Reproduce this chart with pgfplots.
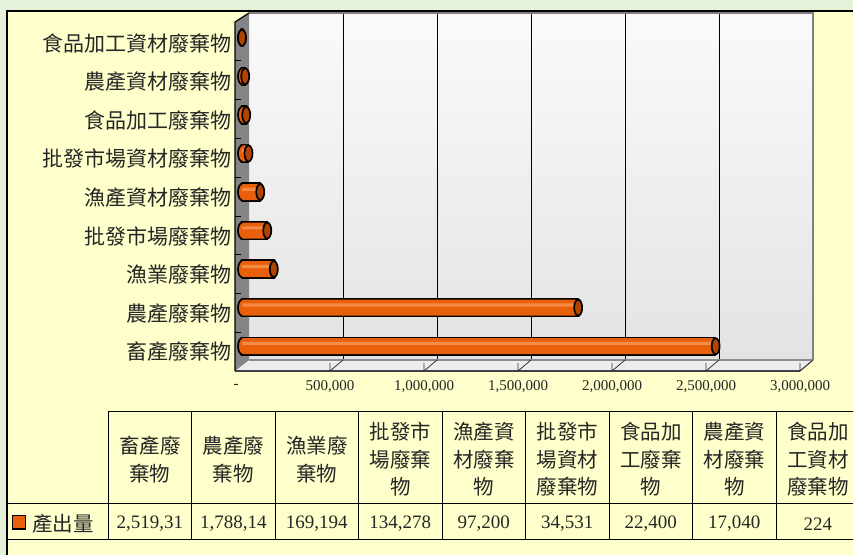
\documentclass[border=0pt]{standalone}
\usepackage{pgfplots}
\pgfplotsset{compat=1.18}
\usepackage{pgfplotstable}
\usepackage{fontspec}
\setmainfont{Liberation Serif}
\newfontfamily\cjk{Noto Sans CJK TC}
\definecolor{bggreen}{HTML}{E5F2D9}
\definecolor{chartyellow}{HTML}{FFFFCC}
\definecolor{barorange}{HTML}{E8600C}
\definecolor{barlight}{HTML}{F58A45}
\definecolor{barcap}{HTML}{B04400}

\pgfdeclareplotmark{lefthalf}{%
  \pgfpathmoveto{\pgfpoint{0pt}{\pgfplotmarksize}}%
  \pgfpatharc{90}{270}{\pgfplotmarksize}%
  \pgfpathclose
  \pgfusepathqfill
  \pgfpathmoveto{\pgfpoint{0pt}{\pgfplotmarksize}}%
  \pgfpatharc{90}{270}{\pgfplotmarksize}%
  \pgfusepathqstroke
}

\pgfplotstableread{
k v
0 2519310
1 1788140
2 169194
3 134278
4 97200
5 34531
6 22400
7 17040
8 224
}\wastedata

\begin{document}
\begin{tikzpicture}[x=1pt,y=1pt]
\useasboundingbox (0,0) rectangle (853,555);
% backgrounds
\fill[bggreen] (0,0) rectangle (853,555);
\fill[chartyellow] (7,0) rectangle (853,544);
\draw[black, line width=1.5pt] (7,0) -- (7,544) -- (853,544);
% back wall
\shade[top color=black!2, bottom color=black!11] (249,195) rectangle (813,542);
\foreach \k in {1,...,5} {
  \draw[black, line width=0.8pt] ({249+94*\k},542) -- ({249+94*\k},195);
}
\draw[black!50, line width=1.5pt] (249,542) -- (813,542) -- (813,195);
% floor
\fill[black!7] (235,184) -- (249,195) -- (813,195) -- (800,184) -- cycle;
\draw[black!45, line width=2pt] (249,195) -- (813,195);
\draw[black!45, line width=1.2pt] (800,184) -- (813,195);
\draw[black!75, line width=1.2pt] (235,184) -- (800,184);
\foreach \k in {1,...,6} {
  \draw[black!80, line width=0.8pt] ({249+94*\k},195) -- ({236+94*\k},184) -- ({236+94*\k},192);
}
% side wall
\fill[black!48] (235,184) -- (235,533) -- (249,542) -- (249,195) -- cycle;
\draw[black, line width=1.2pt] (235,184) -- (235,533) -- (249,542);
\foreach \k in {1,...,8} {
  \draw[black, line width=0.8pt] (235,{555-22-38.8*\k}) -- (241,{555-22-38.8*\k});
}
\begin{axis}[
  at={(242pt,189.5pt)}, anchor=south west,
  width=564pt, height=347pt, scale only axis,
  xmin=0, xmax=3000000, ymin=-0.5, ymax=8.5,
  clip=false,
  axis line style={draw=none},
  tick style={draw=none},
  scaled x ticks=false,
  xtick={0,500000,1000000,1500000,2000000,2500000,3000000},
  xticklabels={-,{500,000},{1,000,000},{1,500,000},{2,000,000},{2,500,000},{3,000,000}},
  ytick={0,1,2,3,4,5,6,7,8},
  yticklabels={畜產廢棄物,農產廢棄物,漁業廢棄物,批發市場廢棄物,漁產資材廢棄物,批發市場資材廢棄物,食品加工廢棄物,農產資材廢棄物,食品加工資材廢棄物},
  x tick label style={font=\fontsize{15}{15}\selectfont, text=black!85, anchor=center, xshift=-6pt, yshift=-21pt},
  y tick label style={font=\cjk\fontsize{21}{21}\selectfont, text=black!85, anchor=east, inner sep=0pt, xshift=-10pt, yshift=-5.5pt},
]
\addplot[xbar, bar width=16pt, bar shift=0pt, fill=barorange, draw=black, line width=3.4pt, line join=round] table[x=v,y=k] {\wastedata};
\addplot[only marks, mark=lefthalf, mark size=8pt, mark options={xscale=0.5, fill=barorange, draw=black, line width=1.7pt}] table[x expr=0,y=k] {\wastedata};
\addplot[xbar, bar width=16pt, bar shift=0pt, fill=barorange, draw=none] table[x=v,y=k] {\wastedata};
\addplot[xbar, bar width=3.2pt, bar shift=2.7pt, fill=barlight, draw=none] table[x=v,y=k] {\wastedata};
\addplot[only marks, mark=*, mark size=8pt, mark options={xscale=0.5, fill=barcap, draw=black, line width=1.7pt}] table[x=v,y=k] {\wastedata};
\end{axis}
% data table
\draw[black, line width=1pt] (108,144) -- (853,144);
\draw[black, line width=1pt] (7,52) -- (853,52);
\draw[black, line width=1pt] (7,16) -- (853,16);
\foreach \xx in {108,191.5,275,358.5,442,525.5,609,692.5,776} {
  \draw[black, line width=1pt] (\xx,144) -- (\xx,16);
}
\tikzset{hdr/.style={align=center, inner sep=0pt, text=black!85, font=\cjk\fontsize{20.5}{27.5}\selectfont}}
\node[hdr] at (149.75,95.5) {畜產廢\\棄物};
\node[hdr] at (233.25,95.5) {農產廢\\棄物};
\node[hdr] at (316.75,95.5) {漁業廢\\棄物};
\node[hdr] at (400.25,95.5) {批發市\\場廢棄\\物};
\node[hdr] at (483.75,95.5) {漁產資\\材廢棄\\物};
\node[hdr] at (567.25,95.5) {批發市\\場資材\\廢棄物};
\node[hdr] at (650.75,95.5) {食品加\\工廢棄\\物};
\node[hdr] at (734.25,95.5) {農產資\\材廢棄\\物};
\node[hdr] at (817.75,95.5) {食品加\\工資材\\廢棄物};
\tikzset{val/.style={inner sep=0pt, text=black!85, font=\fontsize{19}{19}\selectfont}}
\node[val] at (149.75,31) {2,519,31};
\node[val] at (233.25,31) {1,788,14};
\node[val] at (316.75,31) {169,194};
\node[val] at (400.25,31) {134,278};
\node[val] at (483.75,31) {97,200};
\node[val] at (567.25,31) {34,531};
\node[val] at (650.75,31) {22,400};
\node[val] at (734.25,31) {17,040};
\node[val] at (817.75,31) {224};
\fill[barorange, draw=black, line width=1.8pt] (12.5,26) rectangle (25.5,39.5);
\node[anchor=west, inner sep=0pt, text=black!85, font=\cjk\fontsize{20.5}{20.5}\selectfont] at (32,31) {產出量};
\end{tikzpicture}
\end{document}
